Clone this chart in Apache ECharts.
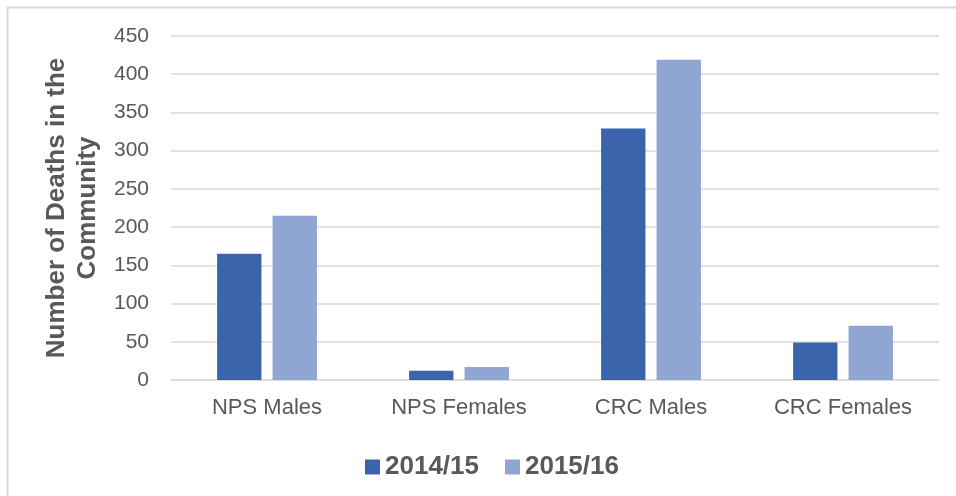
<!DOCTYPE html>
<html>
<head>
<meta charset="utf-8">
<script src="https://cdn.jsdelivr.net/npm/echarts@6/dist/echarts.min.js"></script>
<style>
  html, body { margin: 0; padding: 0; background: #fff; }
  #main { width: 956px; height: 496px; }
</style>
</head>
<body>
<div id="main"></div>
<script>
const categories = ['NPS Males', 'NPS Females', 'CRC Males', 'CRC Females']
const seriesNames = ['2014/15', '2015/16']
const values2014 = [165, 12, 329, 49]
const values2015 = [215, 17, 419, 71]
const yTicks = [0, 450, 50] // min, max, interval

const myChart = echarts.init(document.getElementById('main'))
const font = '"Liberation Sans", Arial, sans-serif'

myChart.setOption({
  animation: false,
  textStyle: { fontFamily: font },
  graphic: [
    {
      type: 'polyline',
      shape: { points: [[7.5, 500], [7.5, 7.5], [960, 7.5]] },
      style: { stroke: '#d9d9d9', lineWidth: 2, fill: null }
    }
  ],
  grid: { left: 171, right: 17, top: 36, bottom: 116 },
  legend: {
    data: seriesNames,
    top: 449,
    left: 360,
    itemWidth: 15,
    itemHeight: 15,
    itemGap: 26,
    icon: 'rect',
    textStyle: { fontSize: 26, fontWeight: 'bold', color: '#595959', fontFamily: font }
  },
  xAxis: {
    type: 'category',
    data: categories,
    axisLine: { lineStyle: { color: '#d9d9d9', width: 1.5 } },
    axisTick: { show: false },
    axisLabel: { fontSize: 22, color: '#595959', margin: 17 }
  },
  yAxis: {
    type: 'value',
    min: yTicks[0],
    max: yTicks[1],
    interval: yTicks[2],
    name: 'Number of Deaths in the\nCommunity',
    nameLocation: 'middle',
    nameRotate: 90,
    nameGap: 68,
    nameTextStyle: { fontSize: 26, fontWeight: 'bold', color: '#595959', lineHeight: 31 },
    axisLine: { show: false },
    axisTick: { show: false },
    axisLabel: { fontSize: 21, color: '#595959', margin: 22 },
    splitLine: { lineStyle: { color: '#d9d9d9', width: 1.5 } }
  },
  series: [
    {
      name: seriesNames[0],
      type: 'bar',
      data: values2014,
      barGap: '25%',
      barCategoryGap: '48%',
      itemStyle: { color: '#3b64ad' }
    },
    {
      name: seriesNames[1],
      type: 'bar',
      data: values2015,
      itemStyle: { color: '#8fa5d4' }
    }
  ]
})
</script>
</body>
</html>
